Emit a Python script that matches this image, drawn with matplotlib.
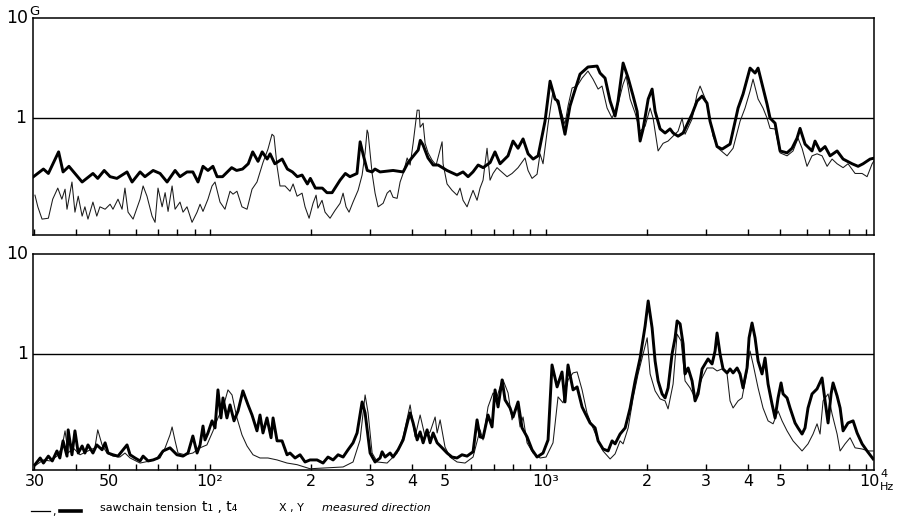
import matplotlib
matplotlib.use("Agg")
import matplotlib.pyplot as plt
from matplotlib.lines import Line2D
from matplotlib.ticker import FixedLocator, NullLocator, NullFormatter
from matplotlib.font_manager import FontProperties

# Vibration spectra of a chain saw, (frequency in Hz, acceleration in G)
# upper panel: direction X, lower panel: direction Y
# thin trace: sawchain tension t1, thick trace: sawchain tension t4
upper_thin = [
    (30.1, 0.17), (30.7, 0.13), (31.6, 0.098), (33.0, 0.10), (34.0, 0.155), (35.2, 0.20),
    (36.2, 0.155), (37.0, 0.195), (37.5, 0.123), (38.8, 0.23), (39.6, 0.115), (40.5, 0.166),
    (41.6, 0.105), (42.4, 0.13), (43.3, 0.098), (44.8, 0.145), (46.0, 0.105), (47.0, 0.13),
    (48.7, 0.123), (50.4, 0.138), (51.4, 0.123), (53.2, 0.155), (54.7, 0.123), (55.8, 0.20),
    (57.0, 0.115), (59.0, 0.098), (61.9, 0.155), (63.2, 0.21), (64.9, 0.166), (67.2, 0.105),
    (68.6, 0.091), (70.0, 0.20), (72.0, 0.13), (73.5, 0.18), (75.0, 0.117), (77.1, 0.21),
    (78.7, 0.123), (81.4, 0.145), (83.1, 0.115), (85.4, 0.13), (88.4, 0.091), (91.5, 0.115),
    (93.4, 0.138), (95.3, 0.117), (98.6, 0.155), (101.4, 0.21), (103.5, 0.23), (107.1, 0.145),
    (110.8, 0.123), (114.7, 0.186), (117.1, 0.174), (120.3, 0.186), (124.5, 0.13), (128.9, 0.123),
    (133.4, 0.195), (138.0, 0.23), (143.8, 0.36), (148.8, 0.49), (153.0, 0.69), (155.1, 0.66),
    (158.4, 0.33), (161.6, 0.21), (167.3, 0.21), (173.1, 0.186), (176.8, 0.22), (181.7, 0.166),
    (188.0, 0.178), (191.9, 0.13), (197.3, 0.10), (202.7, 0.141), (207.0, 0.17), (209.6, 0.126),
    (215.6, 0.151), (220.1, 0.115), (227.8, 0.10), (235.8, 0.12), (244.0, 0.141), (249.1, 0.178),
    (254.2, 0.13), (259.5, 0.115), (266.7, 0.145), (276.1, 0.19), (283.8, 0.27), (289.7, 0.45),
    (293.7, 0.76), (295.7, 0.71), (304.0, 0.28), (310.2, 0.178), (316.7, 0.13), (327.8, 0.141),
    (336.9, 0.178), (343.9, 0.19), (350.9, 0.162), (360.8, 0.158), (368.3, 0.23), (376.0, 0.28),
    (386.5, 0.40), (394.5, 0.34), (402.7, 0.56), (414.0, 1.20), (419.6, 1.20), (422.5, 0.81),
    (431.3, 0.89), (437.2, 0.56), (446.3, 0.45), (458.7, 0.38), (471.5, 0.34), (491.2, 0.58),
    (494.5, 0.35), (508.2, 0.22), (525.8, 0.19), (544.2, 0.17), (555.5, 0.20), (567.1, 0.151),
    (583.0, 0.13), (595.0, 0.158), (607.4, 0.19), (624.3, 0.151), (637.2, 0.20), (650.5, 0.24),
    (668.6, 0.50), (682.5, 0.24), (696.7, 0.28), (716.0, 0.32), (730.9, 0.30), (767.0, 0.26),
    (793.7, 0.28), (827.1, 0.32), (867.7, 0.40), (885.8, 0.30), (910.4, 0.25), (942.1, 0.275),
    (961.6, 0.44), (981.6, 0.35), (1016, 0.87), (1051, 1.86), (1081, 1.41), (1103, 1.26),
    (1141, 0.87), (1165, 1.32), (1198, 2.0), (1240, 2.09), (1283, 2.51), (1336, 2.95),
    (1383, 2.45), (1432, 1.95), (1471, 2.09), (1523, 1.26), (1576, 1.0), (1642, 1.38),
    (1700, 2.19), (1736, 2.63), (1784, 1.55), (1846, 1.12), (1910, 0.74), (1977, 0.83),
    (2046, 1.26), (2088, 1.0), (2161, 0.47), (2236, 0.56), (2314, 0.59), (2395, 0.66),
    (2478, 0.74), (2548, 1.0), (2600, 0.69), (2728, 0.98), (2823, 1.74), (2882, 2.09),
    (2982, 1.58), (3044, 1.26), (3150, 0.66), (3260, 0.50), (3468, 0.42), (3614, 0.50),
    (3791, 0.93), (3923, 1.26), (4060, 1.86), (4144, 2.45), (4290, 1.55), (4438, 1.26),
    (4562, 1.0), (4657, 0.79), (4820, 0.78), (4988, 0.45), (5233, 0.42), (5452, 0.47),
    (5642, 0.63), (5800, 0.50), (6001, 0.33), (6211, 0.42), (6428, 0.44), (6653, 0.42),
    (6887, 0.33), (7127, 0.39), (7376, 0.35), (7685, 0.32), (7950, 0.35), (8344, 0.28),
    (8755, 0.28), (9060, 0.26), (9380, 0.35), (9572, 0.39),
]

upper_thick = [
    (29.8, 0.26), (31.9, 0.31), (33.0, 0.28), (35.4, 0.46), (36.5, 0.29), (38.0, 0.33),
    (39.6, 0.28), (41.6, 0.23), (44.8, 0.28), (46.3, 0.25), (48.4, 0.30), (50.4, 0.26),
    (52.8, 0.25), (56.6, 0.29), (58.6, 0.23), (61.9, 0.29), (64.0, 0.26), (67.7, 0.30),
    (71.0, 0.28), (74.5, 0.23), (78.7, 0.30), (81.4, 0.26), (85.4, 0.29), (88.9, 0.29),
    (92.1, 0.23), (95.3, 0.33), (98.6, 0.30), (102, 0.33), (105, 0.26), (109, 0.26),
    (116, 0.32), (120, 0.30), (125, 0.31), (130, 0.35), (134, 0.46), (139, 0.37),
    (143, 0.46), (148, 0.39), (151, 0.44), (156, 0.35), (164, 0.39), (170, 0.31),
    (176, 0.29), (182, 0.26), (188, 0.27), (195, 0.22), (199, 0.25), (206, 0.20),
    (216, 0.20), (223, 0.18), (231, 0.18), (244, 0.24), (253, 0.28), (261, 0.26),
    (274, 0.28), (280, 0.58), (286, 0.43), (294, 0.30), (304, 0.29), (310, 0.31),
    (321, 0.29), (351, 0.30), (376, 0.29), (389, 0.36), (417, 0.48), (423, 0.60),
    (431, 0.54), (446, 0.40), (462, 0.34), (478, 0.34), (508, 0.30), (544, 0.27),
    (567, 0.29), (587, 0.26), (607, 0.29), (629, 0.34), (651, 0.32), (683, 0.36),
    (706, 0.46), (731, 0.35), (772, 0.42), (799, 0.59), (827, 0.50), (856, 0.62),
    (886, 0.44), (917, 0.39), (949, 0.42), (995, 0.93), (1030, 2.34), (1066, 1.55),
    (1088, 1.48), (1141, 0.69), (1181, 1.32), (1206, 1.66), (1265, 2.75), (1336, 3.24),
    (1422, 3.31), (1451, 2.82), (1502, 2.51), (1555, 1.48), (1609, 1.05), (1642, 1.48),
    (1700, 3.55), (1760, 2.51), (1821, 1.66), (1871, 1.17), (1910, 0.59), (1950, 0.78),
    (2019, 1.55), (2074, 1.95), (2117, 1.17), (2191, 0.78), (2267, 0.71), (2346, 0.78),
    (2395, 0.71), (2478, 0.66), (2565, 0.71), (2728, 1.10), (2823, 1.48), (2922, 1.66),
    (3023, 1.41), (3086, 0.93), (3238, 0.52), (3351, 0.49), (3540, 0.55), (3740, 1.26),
    (3870, 1.74), (4060, 3.16), (4202, 2.82), (4290, 3.16), (4438, 2.0), (4562, 1.38),
    (4657, 1.0), (4820, 0.89), (4988, 0.47), (5233, 0.45), (5415, 0.50), (5604, 0.63),
    (5721, 0.79), (5920, 0.55), (6211, 0.47), (6340, 0.59), (6562, 0.47), (6791, 0.52),
    (7030, 0.42), (7376, 0.47), (7685, 0.39), (8174, 0.35), (8518, 0.33), (8815, 0.35),
    (9249, 0.39), (9572, 0.40),
]

lower_thin = [
    (30.1, 0.076), (31.9, 0.087), (33.4, 0.085), (35.0, 0.095), (36.2, 0.115), (37.0, 0.17),
    (37.8, 0.102), (39.1, 0.115), (41.0, 0.098), (43.3, 0.107), (45.4, 0.115), (46.3, 0.174),
    (47.7, 0.123), (49.3, 0.102), (51.4, 0.095), (53.9, 0.093), (55.8, 0.102), (57.8, 0.091),
    (61.9, 0.081), (66.3, 0.085), (71.0, 0.091), (73.5, 0.115), (76.0, 0.155), (77.1, 0.186),
    (78.7, 0.135), (80.3, 0.102), (84.2, 0.098), (88.9, 0.102), (93.4, 0.115), (97.9, 0.123),
    (102.1, 0.17), (105.6, 0.229), (109.3, 0.288), (113.1, 0.437), (116.3, 0.389), (120.3, 0.229),
    (124.5, 0.155), (128.9, 0.12), (134.3, 0.098), (140.9, 0.091), (148.8, 0.091), (158.4, 0.087),
    (169.6, 0.081), (181.7, 0.078), (198.6, 0.071), (249.1, 0.074), (266.7, 0.083), (279.9, 0.138),
    (289.7, 0.389), (295.7, 0.257), (304.0, 0.102), (314.9, 0.083), (336.9, 0.081), (360.8, 0.102),
    (376.0, 0.148), (394.5, 0.309), (408.2, 0.148), (422.5, 0.245), (437.2, 0.148), (452.5, 0.166),
    (468.3, 0.234), (474.8, 0.162), (484.6, 0.219), (501.2, 0.117), (518.7, 0.093), (544.2, 0.083),
    (574.9, 0.081), (607.4, 0.093), (637.2, 0.174), (650.5, 0.138), (673.0, 0.295), (696.7, 0.407),
    (716.0, 0.372), (730.9, 0.468), (746.1, 0.55), (772.3, 0.407), (793.7, 0.219), (821.5, 0.309),
    (838.5, 0.186), (855.9, 0.234), (879.7, 0.129), (916.7, 0.102), (961.6, 0.091), (1002, 0.093),
    (1051, 0.129), (1088, 0.372), (1126, 0.324), (1165, 0.55), (1206, 0.646), (1240, 0.661),
    (1283, 0.437), (1327, 0.257), (1355, 0.214), (1422, 0.145), (1481, 0.107), (1555, 0.089),
    (1609, 0.10), (1665, 0.135), (1700, 0.126), (1760, 0.182), (1821, 0.363), (1884, 0.631),
    (1950, 1.0), (2005, 1.45), (2046, 0.631), (2117, 0.427), (2191, 0.355), (2267, 0.339),
    (2314, 0.282), (2395, 0.50), (2462, 1.58), (2530, 1.35), (2600, 0.537), (2691, 0.457),
    (2785, 0.363), (2922, 0.575), (3023, 0.724), (3150, 0.724), (3238, 0.676), (3351, 0.708),
    (3468, 0.631), (3540, 0.339), (3614, 0.288), (3740, 0.339), (3843, 0.363), (3977, 0.676),
    (4060, 1.07), (4144, 0.794), (4290, 0.457), (4438, 0.288), (4594, 0.214), (4755, 0.20),
    (4920, 0.269), (5057, 0.214), (5233, 0.17), (5452, 0.135), (5800, 0.107), (6042, 0.126),
    (6254, 0.158), (6428, 0.20), (6562, 0.158), (6699, 0.339), (6933, 0.398), (7127, 0.251),
    (7376, 0.158), (7530, 0.107), (7790, 0.126), (8063, 0.145), (8344, 0.115), (8755, 0.112),
    (9123, 0.107), (9444, 0.107),
]

lower_thick = [
    (30.1, 0.078), (31.2, 0.091), (31.9, 0.081), (33.0, 0.095), (33.9, 0.085), (35.0, 0.107),
    (35.7, 0.091), (36.5, 0.135), (37.5, 0.095), (37.8, 0.174), (38.8, 0.098), (39.6, 0.17),
    (40.5, 0.102), (41.6, 0.12), (42.4, 0.102), (43.3, 0.123), (44.8, 0.102), (46.0, 0.123),
    (47.7, 0.11), (48.7, 0.129), (49.7, 0.102), (51.4, 0.098), (53.2, 0.095), (55.1, 0.11),
    (56.6, 0.123), (57.8, 0.098), (59.8, 0.091), (61.9, 0.085), (63.2, 0.095), (65.4, 0.085),
    (67.7, 0.087), (70.0, 0.091), (72.5, 0.107), (76.0, 0.115), (79.7, 0.098), (83.1, 0.095),
    (86.0, 0.102), (88.9, 0.151), (91.5, 0.102), (93.4, 0.123), (95.3, 0.19), (96.6, 0.138),
    (98.6, 0.162), (101.4, 0.214), (103.5, 0.182), (105.6, 0.437), (107.8, 0.229), (109.3, 0.363),
    (112.3, 0.229), (114.7, 0.309), (117.9, 0.214), (121.2, 0.269), (125.3, 0.427), (129.8, 0.309),
    (133.4, 0.245), (138.0, 0.17), (140.9, 0.245), (143.8, 0.162), (147.8, 0.229), (152.0, 0.145),
    (154.1, 0.229), (158.4, 0.135), (163.9, 0.135), (169.6, 0.098), (173.1, 0.102), (179.2, 0.091),
    (185.4, 0.098), (191.9, 0.083), (198.6, 0.087), (208.4, 0.087), (217.1, 0.081), (224.6, 0.093),
    (232.6, 0.087), (240.7, 0.098), (249.1, 0.093), (257.7, 0.11), (266.7, 0.129), (274.2, 0.162),
    (283.8, 0.331), (289.7, 0.257), (299.8, 0.102), (310.2, 0.083), (321.1, 0.091), (325.5, 0.105),
    (332.3, 0.093), (343.9, 0.102), (350.9, 0.093), (363.3, 0.11), (376.0, 0.138), (389.1, 0.219),
    (394.5, 0.257), (402.7, 0.204), (414.0, 0.138), (422.5, 0.166), (431.3, 0.129), (443.2, 0.174),
    (452.5, 0.129), (461.9, 0.162), (474.8, 0.129), (491.2, 0.115), (508.2, 0.102), (525.8, 0.093),
    (544.2, 0.091), (563.1, 0.098), (582.9, 0.095), (607.4, 0.105), (624.3, 0.219), (637.2, 0.148),
    (650.5, 0.145), (673.0, 0.245), (691.9, 0.186), (706.3, 0.437), (721.0, 0.295), (741.3, 0.55),
    (756.5, 0.347), (782.9, 0.288), (799.2, 0.234), (827.1, 0.331), (850.1, 0.182), (879.7, 0.148),
    (910.4, 0.11), (942.1, 0.093), (981.6, 0.102), (1016, 0.138), (1044, 0.776), (1081, 0.468),
    (1118, 0.66), (1141, 0.331), (1165, 0.776), (1206, 0.437), (1240, 0.468), (1283, 0.295),
    (1309, 0.257), (1355, 0.204), (1403, 0.182), (1432, 0.135), (1481, 0.112), (1534, 0.107),
    (1576, 0.135), (1609, 0.126), (1665, 0.158), (1724, 0.182), (1784, 0.288), (1846, 0.537),
    (1910, 0.91), (1977, 1.91), (2019, 3.39), (2074, 1.82), (2117, 0.85), (2161, 0.537),
    (2221, 0.398), (2267, 0.363), (2314, 0.457), (2378, 1.0), (2428, 1.45), (2462, 2.14),
    (2513, 2.0), (2565, 1.26), (2600, 0.631), (2655, 0.724), (2728, 0.537), (2785, 0.339),
    (2843, 0.398), (2922, 0.708), (2982, 0.794), (3044, 0.891), (3129, 0.794), (3194, 1.07),
    (3238, 1.62), (3305, 1.0), (3374, 0.708), (3468, 0.646), (3540, 0.708), (3614, 0.646),
    (3715, 0.724), (3791, 0.631), (3870, 0.457), (3977, 0.724), (4033, 1.45), (4116, 2.04),
    (4202, 1.45), (4290, 0.85), (4408, 0.631), (4500, 0.91), (4594, 0.50), (4720, 0.316),
    (4820, 0.229), (4920, 0.363), (5022, 0.513), (5092, 0.398), (5233, 0.363), (5342, 0.288),
    (5528, 0.204), (5642, 0.182), (5800, 0.158), (5920, 0.182), (6042, 0.288), (6211, 0.398),
    (6428, 0.447), (6653, 0.575), (6791, 0.339), (6933, 0.204), (7078, 0.398), (7175, 0.513),
    (7376, 0.380), (7530, 0.288), (7685, 0.17), (7950, 0.204), (8231, 0.214), (8460, 0.162),
    (8755, 0.126), (9060, 0.107), (9444, 0.089),
]

freq_ticks = [30, 40, 50, 60, 70, 80, 90,
              100, 200, 300, 400, 500, 600, 700, 800, 900,
              1000, 2000, 3000, 4000, 5000, 6000, 7000, 8000, 9000]
freq_labels = {30: "30", 50: "50", 100: "10\u00b2", 200: "2", 300: "3", 400: "4", 500: "5",
               1000: "10\u00b3", 2000: "2", 3000: "3", 4000: "4", 5000: "5"}
freq_range = (29.7, 9500)
upper_range = (0.068, 10)
lower_range = (0.069, 10)

W, H = 906, 530
fig = plt.figure(figsize=(W / 100, H / 100), dpi=100)
fig.patch.set_facecolor("white")

font_families = ["DejaVu Sans"]
fp_big = FontProperties(family=font_families, size=12.5)
fp_tick = FontProperties(family=font_families, size=11.5)
fp_small = FontProperties(family=font_families, size=8)
fp_legend = FontProperties(family=font_families, size=8)
fp_key_sym = FontProperties(family=font_families, size=10)


def px_box(left, top, right, bottom):
    return [left / W, 1 - bottom / H, (right - left) / W, (bottom - top) / H]


ax_top = fig.add_axes(px_box(33, 18, 874, 235))
ax_bot = fig.add_axes(px_box(33, 254, 874, 470))


def draw_panel(ax, thin, thick, ylim):
    ax.set_xscale("log")
    ax.set_yscale("log")
    ax.set_xlim(*freq_range)
    ax.set_ylim(*ylim)
    ax.axhline(1.0, color="black", lw=1.0, zorder=1)
    f_thin, g_thin = zip(*thin)
    f_thick, g_thick = zip(*thick)
    ax.plot(f_thin, g_thin, color="#1a1a1a", lw=0.75, zorder=2)
    ax.plot(f_thick, g_thick, color="black", lw=2.1, solid_joinstyle="round", zorder=3)
    for s in ax.spines.values():
        s.set_linewidth(1.1)
        s.set_color("black")
    ax.xaxis.set_major_locator(FixedLocator(freq_ticks))
    ax.xaxis.set_minor_locator(NullLocator())
    ax.xaxis.set_major_formatter(NullFormatter())
    ax.xaxis.set_minor_formatter(NullFormatter())
    ax.yaxis.set_major_locator(NullLocator())
    ax.yaxis.set_minor_locator(NullLocator())
    ax.tick_params(axis="x", which="major", direction="in", length=4.5, width=1.0,
                   color="black", bottom=True, top=False)
    ax.tick_params(axis="y", left=False, right=False)


draw_panel(ax_top, upper_thin, upper_thick, upper_range)
draw_panel(ax_bot, lower_thin, lower_thick, lower_range)

# y-axis decade labels
ylab = dict(xycoords=("axes fraction", "data"), textcoords="offset points",
            ha="right", va="center", fontproperties=fp_big)
ax_top.annotate("10", xy=(0, 10), xytext=(-3.5, 0), **ylab)
ax_top.annotate("1", xy=(0, 1), xytext=(-5, 0), **ylab)
ax_top.annotate("G", xy=(0, 10), xytext=(-2.5, 5), xycoords=("axes fraction", "data"),
                textcoords="offset points", ha="left", va="center",
                family="DejaVu Sans", fontsize=9.5)
ax_bot.annotate("10", xy=(0, 10), xytext=(-3.5, 0), **ylab)
ax_bot.annotate("1", xy=(0, 1), xytext=(-3.5, 0), **ylab)

# frequency labels under the lower panel
for f, lab in freq_labels.items():
    ax_bot.annotate(lab, xy=(f, 0), xycoords=("data", "axes fraction"),
                    xytext=(0, -3), textcoords="offset points",
                    ha="center", va="top", fontproperties=fp_tick)
ax_bot.annotate("10", xy=(9850, 0), xycoords=("data", "axes fraction"),
                xytext=(0, -3), textcoords="offset points",
                ha="right", va="top", fontproperties=fp_tick, annotation_clip=False)
ax_bot.annotate("4", xy=(9850, 0), xycoords=("data", "axes fraction"),
                xytext=(1, 1), textcoords="offset points",
                ha="left", va="top", fontproperties=fp_small, annotation_clip=False)
ax_bot.annotate("Hz", xy=(9850, 0), xycoords=("data", "axes fraction"),
                xytext=(0.5, -9), textcoords="offset points",
                ha="left", va="top", fontproperties=fp_small, annotation_clip=False)

# key line under the chart
def fig_pt(x, y):
    return x / W, 1 - y / H


ky = 511
for (x0, x1), lw in (((31, 50), 0.9), ((60, 81), 2.6)):
    (fx0, fy), (fx1, _) = fig_pt(x0, ky), fig_pt(x1, ky)
    fig.add_artist(Line2D([fx0, fx1], [fy, fy], lw=lw, color="black",
                          transform=fig.transFigure))
fig.text(*fig_pt(52, 512), ",", fontproperties=fp_legend, ha="left", va="center")
fig.text(*fig_pt(100, 508), "sawchain tension", fontproperties=fp_legend,
         ha="left", va="center")
fig.text(*fig_pt(202, 507), "t\u2081 , t\u2084", fontproperties=fp_key_sym,
         ha="left", va="center")
fig.text(*fig_pt(279, 508), "X , Y", fontproperties=fp_legend, ha="left", va="center")
fig.text(*fig_pt(322, 508), "measured direction", fontproperties=fp_legend,
         ha="left", va="center", style="italic")

fig.savefig("out.png", dpi=100, facecolor="white")
